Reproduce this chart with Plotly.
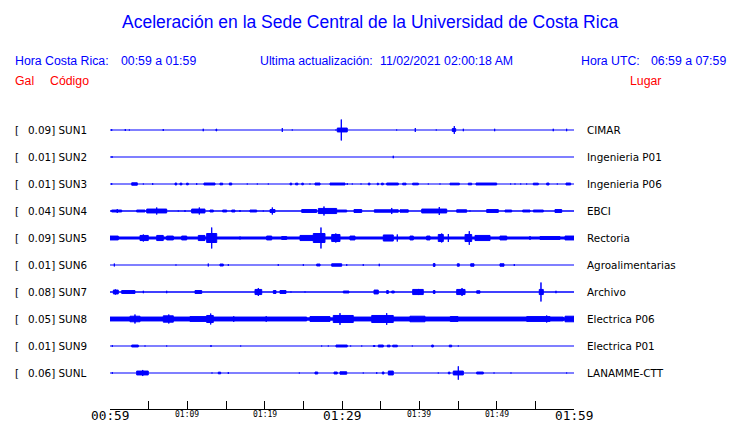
import plotly.graph_objects as go

# ---------------- data ----------------
stations = ["SUN1", "SUN2", "SUN3", "SUN4", "SUN5", "SUN6", "SUN7", "SUN8", "SUN9", "SUNL"]
places = ["CIMAR", "Ingenieria P01", "Ingenieria P06", "EBCI", "Rectoria",
          "Agroalimentarias", "Archivo", "Electrica P06", "Electrica P01", "LANAMME-CTT"]
peak_gal = ["0.09", "0.01", "0.01", "0.04", "0.09", "0.01", "0.08", "0.05", "0.01", "0.06"]
# background noise half-amplitude (Gal)
noise_gal = [0.005, 0.005, 0.005, 0.006, 0.013, 0.005, 0.006, 0.015, 0.005, 0.005]

# bursts: (start minute, end minute, half amplitude in Gal), minutes after 00:59
sun1 = [(0.22, 0.22, 0.011), (1.98, 1.98, 0.012), (2.50, 2.50, 0.008), (6.89, 6.89, 0.012),
        (12.06, 12.06, 0.014), (13.71, 13.80, 0.012), (22.28, 22.28, 0.02), (23.57, 23.57, 0.008),
        (29.22, 29.22, 0.008), (29.39, 30.68, 0.02), (29.91, 29.91, 0.09), (37.07, 37.07, 0.008),
        (39.48, 39.48, 0.02), (42.19, 42.19, 0.008), (44.26, 44.70, 0.016), (44.52, 44.52, 0.036),
        (45.69, 45.69, 0.014), (49.74, 49.74, 0.014), (57.32, 57.32, 0.014), (59.05, 59.05, 0.014)]
sun2 = [(0.26, 0.26, 0.011), (36.63, 36.63, 0.014)]
sun3 = [(0.22, 0.22, 0.011), (2.81, 3.53, 0.014), (4.31, 4.31, 0.008), (5.52, 5.52, 0.011),
        (8.41, 8.62, 0.012), (9.05, 9.30, 0.011), (9.90, 10.12, 0.011), (11.21, 11.21, 0.011),
        (12.15, 13.58, 0.012), (14.22, 14.57, 0.011), (15.43, 15.74, 0.012), (17.75, 17.75, 0.008),
        (19.05, 19.05, 0.008), (20.47, 20.47, 0.008), (23.28, 23.50, 0.011), (24.00, 24.30, 0.011),
        (24.80, 25.00, 0.011), (25.86, 25.86, 0.008), (26.51, 27.16, 0.012), (28.45, 30.39, 0.012),
        (30.68, 30.68, 0.011), (31.33, 31.33, 0.008), (32.46, 32.46, 0.008), (33.40, 33.62, 0.011),
        (34.56, 34.70, 0.011), (35.10, 35.34, 0.011), (35.78, 37.28, 0.012), (37.85, 38.28, 0.011),
        (39.14, 39.87, 0.011), (41.16, 41.16, 0.008), (42.67, 42.67, 0.008), (43.97, 45.17, 0.011),
        (46.33, 46.77, 0.011), (47.33, 50.00, 0.012), (51.81, 51.81, 0.008), (52.37, 52.37, 0.008),
        (53.11, 53.11, 0.008), (53.88, 53.88, 0.008), (54.74, 55.38, 0.011), (56.47, 56.77, 0.012),
        (57.84, 57.84, 0.008), (58.97, 59.57, 0.012)]
sun4 = [(0.22, 1.51, 0.012), (0.94, 0.94, 0.02), (3.45, 4.53, 0.012), (4.75, 7.33, 0.02),
        (6.04, 6.04, 0.033), (8.83, 8.83, 0.008), (9.70, 9.70, 0.011), (10.56, 12.28, 0.02),
        (11.55, 11.55, 0.033), (12.93, 13.36, 0.012), (14.57, 15.09, 0.012), (15.74, 16.16, 0.012),
        (16.81, 16.81, 0.012), (18.10, 18.97, 0.012), (19.82, 19.82, 0.008), (20.69, 21.34, 0.016),
        (20.99, 20.99, 0.033), (24.79, 26.73, 0.016), (26.94, 29.31, 0.025), (27.67, 27.67, 0.041),
        (29.31, 30.61, 0.012), (31.55, 32.55, 0.016), (34.18, 37.28, 0.014), (36.43, 36.43, 0.029),
        (37.50, 38.57, 0.014), (40.31, 43.54, 0.02), (42.58, 42.58, 0.037), (44.83, 46.12, 0.014),
        (46.55, 46.55, 0.008), (48.71, 50.21, 0.016), (51.08, 51.94, 0.012), (53.37, 54.31, 0.012),
        (54.74, 56.03, 0.012), (57.54, 58.41, 0.016)]
sun5 = [(0.00, 1.07, 0.02), (3.88, 4.95, 0.025), (4.31, 4.31, 0.033), (6.04, 6.89, 0.025),
        (7.33, 8.19, 0.02), (9.27, 9.92, 0.02), (11.42, 12.28, 0.025), (12.50, 13.80, 0.041),
        (13.15, 13.15, 0.09), (16.81, 16.81, 0.016), (20.26, 20.91, 0.02), (22.20, 22.85, 0.016),
        (24.57, 26.29, 0.025), (26.29, 27.80, 0.041), (27.28, 27.28, 0.09), (28.67, 29.74, 0.033),
        (29.20, 29.20, 0.041), (31.03, 31.68, 0.02), (35.34, 36.63, 0.029), (37.15, 37.15, 0.033),
        (38.79, 39.22, 0.02), (40.95, 41.38, 0.02), (42.45, 43.10, 0.033), (42.89, 42.89, 0.041),
        (43.75, 43.75, 0.037), (45.91, 46.77, 0.033), (46.46, 46.46, 0.06), (47.20, 49.14, 0.025),
        (50.43, 51.30, 0.02), (54.31, 54.31, 0.02), (55.60, 58.19, 0.016), (58.84, 60.00, 0.02)]
sun6 = [(0.56, 0.56, 0.016), (8.53, 8.53, 0.008), (12.71, 12.71, 0.016), (14.22, 14.65, 0.012),
        (15.30, 15.30, 0.011), (21.76, 21.76, 0.011), (25.00, 25.00, 0.011), (26.73, 27.16, 0.012),
        (28.67, 29.96, 0.014), (30.61, 30.61, 0.011), (32.75, 32.75, 0.011), (34.82, 34.82, 0.014),
        (41.81, 42.03, 0.016), (44.91, 45.17, 0.014), (46.64, 47.07, 0.014), (50.43, 50.95, 0.014),
        (52.28, 52.28, 0.012)]
sun7 = [(0.43, 1.07, 0.02), (0.70, 0.70, 0.025), (1.51, 3.23, 0.016), (4.31, 4.31, 0.014),
        (7.33, 7.33, 0.014), (10.99, 11.86, 0.016), (18.75, 19.62, 0.025), (19.18, 19.18, 0.037),
        (21.12, 21.47, 0.016), (21.98, 22.76, 0.016), (23.40, 23.40, 0.008), (25.22, 25.22, 0.008),
        (30.17, 30.90, 0.012), (34.14, 34.69, 0.02), (35.78, 35.99, 0.016), (36.43, 36.76, 0.012),
        (39.14, 40.51, 0.025), (39.90, 39.90, 0.029), (41.81, 42.03, 0.016), (44.83, 45.91, 0.025),
        (45.52, 45.52, 0.037), (47.42, 47.84, 0.014), (55.51, 56.03, 0.025), (55.73, 55.73, 0.082),
        (57.67, 57.67, 0.014)]
sun8 = [(0.00, 2.59, 0.02), (2.59, 3.88, 0.027), (3.23, 3.23, 0.041), (3.88, 6.89, 0.02),
        (6.89, 8.19, 0.03), (7.60, 7.60, 0.041), (8.19, 10.34, 0.02), (10.34, 12.50, 0.024),
        (12.50, 13.36, 0.033), (13.02, 13.02, 0.049), (13.36, 25.43, 0.02), (16.00, 16.00, 0.027),
        (20.20, 20.20, 0.027), (25.86, 28.45, 0.024), (28.87, 31.46, 0.033), (29.74, 29.74, 0.052),
        (31.46, 33.84, 0.02), (33.84, 36.63, 0.033), (35.78, 35.78, 0.052), (36.63, 38.79, 0.02),
        (38.79, 40.73, 0.027), (40.73, 53.88, 0.02), (44.00, 45.00, 0.024), (53.88, 56.90, 0.024),
        (56.47, 56.47, 0.033), (56.90, 58.62, 0.02), (58.84, 60.00, 0.027)]
sun9 = [(0.30, 0.30, 0.011), (2.81, 3.66, 0.012), (4.53, 4.53, 0.008), (7.33, 7.33, 0.008),
        (13.06, 13.06, 0.012), (16.90, 16.90, 0.008), (27.37, 27.37, 0.008), (28.23, 28.23, 0.008),
        (29.22, 30.68, 0.012), (31.12, 31.12, 0.008), (32.55, 32.55, 0.008), (34.05, 34.27, 0.008),
        (34.69, 35.34, 0.012), (35.86, 36.21, 0.011), (36.56, 37.15, 0.011), (39.09, 39.09, 0.008),
        (41.60, 41.81, 0.012), (43.87, 44.18, 0.011), (45.04, 45.04, 0.008)]
sunl = [(0.30, 0.30, 0.011), (3.45, 4.95, 0.02), (4.23, 4.23, 0.029), (13.19, 13.19, 0.008),
        (14.00, 14.31, 0.011), (15.30, 15.30, 0.012), (24.48, 24.48, 0.008), (26.51, 26.86, 0.012),
        (28.97, 29.39, 0.012), (29.74, 30.61, 0.014), (32.75, 32.75, 0.008), (34.49, 34.49, 0.011),
        (35.21, 35.43, 0.012), (35.99, 36.63, 0.02), (42.45, 42.45, 0.008), (43.75, 43.97, 0.011),
        (44.39, 45.69, 0.02), (45.04, 45.04, 0.059), (47.42, 48.27, 0.012), (49.66, 49.66, 0.008),
        (51.85, 51.85, 0.008), (59.05, 59.05, 0.008)]
bursts = [sun1, sun2, sun3, sun4, sun5, sun6, sun7, sun8, sun9, sunl]

tick_minutes = [0, 5, 10, 15, 20, 25, 30, 35, 40, 45, 50, 55, 60]
label_minutes = [0, 10, 20, 30, 40, 50, 60]
label_text = ["00:59", "01:09", "01:19", "01:29", "01:39", "01:49", "01:59"]
major_labels = ["00:59", "01:29", "01:59"]

# ---------------- layout geometry ----------------
W, H = 740, 423
L, R, T, B = 110, 166, 115, 14
PW, PH = W - L - R, H - T - B
PX_PER_GAL = 122.0
ROW_PX = 27.0
FIRST_ROW_PX = 130.0
row_step = ROW_PX / PX_PER_GAL
y_top = (FIRST_ROW_PX - T) / PX_PER_GAL
y_bot = -(H - B - FIRST_ROW_PX) / PX_PER_GAL
OUTLINE = 1.0
shrink = 0.5 * OUTLINE / PX_PER_GAL  # compensate for the outline stroke

BLUE = "#0000ff"
RED = "#ff0000"

fig = go.Figure()
for i, ev in enumerate(bursts):
    off = -i * row_step
    fig.add_trace(go.Scatter(x=[0, 60], y=[off, off], mode="lines",
                             line=dict(color=BLUE, width=max(1.2, 2 * noise_gal[i] * PX_PER_GAL)),
                             hoverinfo="skip", showlegend=False))
    xs, ys = [], []
    for (t0, t1, a) in ev:
        h = max(a - shrink, 0.3 / PX_PER_GAL)
        xs += [t0, t1, t1, t0, t0, None]
        ys += [off + h, off + h, off - h, off - h, off + h, None]
    fig.add_trace(go.Scatter(x=xs, y=ys, mode="lines", fill="toself", fillcolor=BLUE,
                             line=dict(color=BLUE, width=OUTLINE), hoverinfo="skip",
                             showlegend=False))


def px(xp):
    return (xp - L) / PW


def py(yp):
    return (H - B - yp) / PH


ann = []


def text(x, y, s, size, color="black", family="DejaVu Sans", anchor="left"):
    ann.append(dict(x=px(x), y=py(y), xref="paper", yref="paper", text=s, showarrow=False,
                    xanchor=anchor, yanchor="middle", borderpad=0,
                    font=dict(size=size, color=color, family=family)))


text(370, 22, "Aceleración en la Sede Central de la Universidad de Costa Rica", 17.5, BLUE,
     "Liberation Sans", "center")
text(14, 61, "Hora Costa Rica:", 12.3, BLUE, "Liberation Sans")
text(120, 61, "00:59 a 01:59", 12.3, BLUE, "Liberation Sans")
text(259, 61, "Ultima actualización:", 12.3, BLUE, "Liberation Sans")
text(379, 61, "11/02/2021 02:00:18 AM", 12.3, BLUE, "Liberation Sans")
text(580, 61, "Hora UTC:", 12.3, BLUE, "Liberation Sans")
text(650, 61, "06:59 a 07:59", 12.3, BLUE, "Liberation Sans")
text(14, 81, "Gal", 12.3, RED, "Liberation Sans")
text(49, 81, "Código", 12.3, RED, "Liberation Sans")
text(629, 81, "Lugar", 12.3, RED, "Liberation Sans")

for i in range(len(stations)):
    yp = FIRST_ROW_PX + i * ROW_PX
    text(14, yp, "[", 10.4)
    text(26.5, yp, peak_gal[i] + "] " + stations[i], 10.4)
    text(586, yp, places[i], 10.4)

for m, lab in zip(label_minutes, label_text):
    xp = L + m / 60 * PW
    if lab in major_labels:
        text(xp, 415, lab, 12.8, "black", "DejaVu Sans Mono", "center")
    else:
        text(xp, 414, lab, 8, "black", "DejaVu Sans Mono", "center")

fig.update_layout(
    width=W, height=H, margin=dict(l=L, r=R, t=T, b=B, pad=0),
    paper_bgcolor="white", plot_bgcolor="white",
    annotations=ann,
    xaxis=dict(range=[0, 60], showgrid=False, zeroline=False, showline=True, linecolor="black",
               linewidth=1, ticks="inside", ticklen=8, tickcolor="black", tickwidth=1,
               tickvals=tick_minutes, showticklabels=False, fixedrange=True),
    yaxis=dict(range=[y_bot, y_top], showgrid=False, zeroline=False, showline=False,
               showticklabels=False, ticks="", fixedrange=True),
)
fig.write_html("out.html", config={"displayModeBar": False},
               post_script="document.body.style.margin='0';document.body.style.overflow='hidden';")
